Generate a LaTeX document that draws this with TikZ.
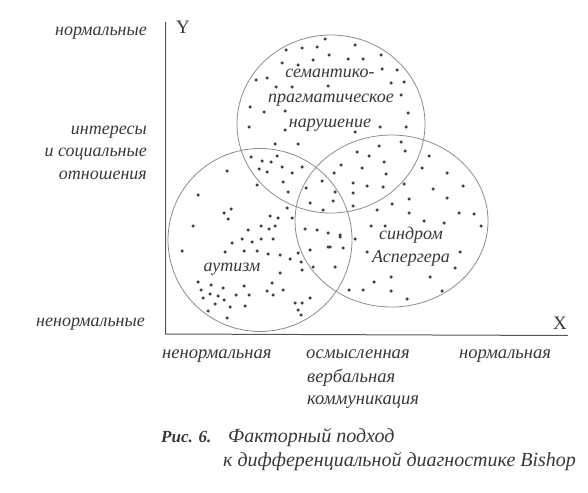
\documentclass[tikz,border=0pt]{standalone}
\usepackage{fontspec}
\setmainfont{Liberation Serif}
\definecolor{txt}{HTML}{383838}
\definecolor{circ}{HTML}{8C8C8C}
\definecolor{axis}{HTML}{555555}
\definecolor{dotc}{HTML}{404040}
\tikzset{
  lbl/.style={font=\itshape\fontsize{18}{21}\selectfont, text=txt, inner sep=0pt},
  blbl/.style={font=\itshape\fontsize{18.6}{21}\selectfont, text=txt, inner sep=0pt},
  captxt/.style={font=\itshape\fontsize{20}{23}\selectfont, text=txt, inner sep=0pt},
  capbold/.style={font=\bfseries\itshape\fontsize{17}{20}\selectfont, text=txt, inner sep=0pt},
  axlbl/.style={font=\fontsize{19}{22}\selectfont, text=txt, inner sep=0pt},
  ring/.style={draw=circ, line width=0.8pt},
  axline/.style={draw=axis, line width=1pt},
}
\begin{document}
\begin{tikzpicture}[x=1pt,y=-1pt]
\useasboundingbox (0,0) rectangle (588,492);
% axes
\coordinate (ytop) at (165.5,22);
\coordinate (orig) at (165.5,334);
\coordinate (xend) at (568,335.5);
\draw[axline] (ytop) -- (orig) -- (xend);
\node[axlbl] (Y) at (183,27) {Y};
\node[axlbl] (X) at (560,323) {X};
% circles
\draw[ring] (331,124) ellipse [x radius=94, y radius=89];
\draw[ring] (260,240) ellipse [x radius=92, y radius=91.5];
\draw[ring] (391.5,221) ellipse [x radius=96.5, y radius=86];
% dots
\foreach \px/\py in {
325/39, 286/50, 302/48, 317/47, 355/45, 329/55, 313/60, 348/59, 363/59, 381/55,
282/63, 298/65, 382/69, 397/70, 256/80, 267/78, 276/87, 292/87, 328/86, 391/83,
404/82, 401/95, 250/107, 264/112, 285/111, 408/113, 249/127, 285/130, 380/127, 406/127,
355/132,
275/144, 298/144, 401/142, 379/146, 357/152, 369/156, 405/151, 429/156, 251/157, 277/156,
262/161, 271/162, 259/169, 267/172, 282/167, 292/173, 302/167, 341/165, 362/168, 384/162,
422/168, 447/173, 334/173, 386/174, 227/171, 257/185, 283/182, 306/188, 322/181, 353/183,
367/186, 383/187, 404/184, 433/189, 463/186, 198/195, 288/192, 335/192, 353/193, 409/199,
447/198, 310/203, 333/201, 353/206, 392/204, 287/208, 323/210, 377/210, 409/213, 459/213,
474/214, 231/209, 224/213, 228/219, 270/216, 278/218, 292/218, 424/221, 444/223, 193/226,
261/226, 269/229, 275/226, 248/230, 305/229, 317/230, 328/233, 371/226, 385/226, 481/226,
340/235,
242/239, 252/242, 261/239, 273/239, 232/243, 182/251, 225/252, 244/251, 257/251, 268/254,
280/255, 290/259, 298/253, 310/250, 328/247, 301/262, 313/267, 302/270, 280/273, 198/282,
211/285, 223/288, 244/286, 272/283, 201/290, 210/294, 218/296, 236/295, 249/295, 267/291,
273/295, 283/290, 203/298, 224/300, 215/304, 230/307, 245/306, 208/311, 295/303, 302/303,
310/298, 298/310, 301/315, 227/318,
340/237, 355/239, 330/247, 343/248, 367/252, 460/252, 335/267, 455/268, 391/277, 430/277,
374/282, 349/290, 363/290, 391/291, 442/291, 407/299}
  \fill[dotc] (\px,\py) circle (1.75pt);
% left labels
\node[lbl, anchor=mid east] (yn) at (147,33) {нормальные};
\node[lbl, anchor=mid east] (ym1) at (147,132) {интересы};
\node[lbl, anchor=mid east] (ym2) at (147,154) {и социальные};
\node[lbl, anchor=mid east] (ym3) at (147,177) {отношения};
\node[lbl, anchor=mid east] (ya) at (145,324) {ненормальные};
% bottom labels
\node[blbl, anchor=mid west] (xa) at (162,356) {ненормальная};
\node[blbl, anchor=mid west] (xm1) at (306,356) {осмысленная};
\node[blbl, anchor=mid west] (xm2) at (307,380) {вербальная};
\node[blbl, anchor=mid west] (xm3) at (307,402) {коммуникация};
\node[blbl, anchor=mid west] (xn) at (459,356) {нормальная};
% circle labels
\node[lbl, anchor=mid] (s1) at (330,75) {семантико-};
\node[lbl, anchor=mid] (s2) at (331,100) {прагматическое};
\node[lbl, anchor=mid] (s3) at (330,125) {нарушение};
\node[lbl, anchor=mid] (aut) at (232,269) {аутизм};
\node[lbl, anchor=mid] (as1) at (411,237) {синдром};
\node[lbl, anchor=mid] (as2) at (411,260) {Аспергера};
% caption
\node[capbold, anchor=mid west] (fig) at (161,440) {Рис. 6.};
\node[captxt, anchor=mid west] (c1) at (228,440) {Факторный подход};
\node[captxt, anchor=mid west] (c2) at (223,464) {к дифференциальной диагностике Bishop};
\end{tikzpicture}
\end{document}
